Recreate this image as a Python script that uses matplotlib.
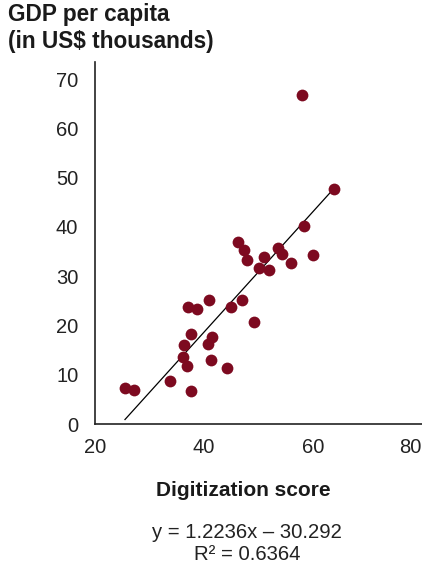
import numpy as np
import matplotlib.pyplot as plt

plt.rcParams['font.family'] = ['Liberation Sans', 'DejaVu Sans']

# digitization score vs GDP per capita (US$ thousands)
score = [57.9, 63.8, 58.4, 60.0, 46.2, 47.3, 47.8, 51.1, 53.6, 54.4, 55.9,
         50.1, 52.0, 40.9, 46.9, 45.0, 37.1, 38.7, 49.2, 37.7, 41.5, 40.8,
         36.4, 36.2, 36.9, 41.2, 44.2, 33.8, 25.5, 27.1, 37.7]
gdp = [66.7, 47.8, 40.2, 34.4, 37.0, 35.4, 33.3, 33.9, 35.8, 34.6, 32.7,
       31.6, 31.3, 25.2, 25.2, 23.8, 23.8, 23.3, 20.8, 18.2, 17.7, 16.2,
       16.0, 13.6, 11.8, 13.0, 11.3, 8.8, 7.4, 7.0, 6.6]
slope = 1.2236
intercept = -30.292
r2 = 0.6364
xticks = [20, 40, 60, 80]
yticks = [0, 10, 20, 30, 40, 50, 60, 70]

W, H = 422, 571
fig = plt.figure(figsize=(W / 100, H / 100), dpi=100)
ax = fig.add_axes([95 / W, 147 / H, 327 / W, 362 / H])

ax.scatter(score, gdp, s=72, color='#7d0a20', zorder=3, linewidths=0)
xs = np.array([min(score), max(score)])
ax.plot(xs, slope * xs + intercept, color='black', lw=0.9, zorder=2)

ax.set_xlim(20, 80)
ax.set_ylim(0, 73.5)
ax.set_xticks(xticks)
ax.set_yticks(yticks)
ax.tick_params(length=0, labelsize=14.5, colors='#222222')
ax.tick_params(axis='y', pad=12)
ax.tick_params(axis='x', pad=10)
ax.xaxis.get_majorticklabels()[-1].set_horizontalalignment('right')
for s in ['top', 'right']:
    ax.spines[s].set_visible(False)
for s in ['left', 'bottom']:
    ax.spines[s].set_linewidth(1.2)
    ax.spines[s].set_color('#222222')

fig.text(8 / W, 1 - 3 / H, 'GDP per capita\n(in US$ thousands)', ha='left', va='top',
         fontsize=16.3, fontweight='bold', color='#1a1a1a', linespacing=1.2)
fig.text(243 / W, 1 - 491 / H, 'Digitization score', ha='center', va='center',
         fontsize=15, fontweight='bold', color='#1a1a1a')
fig.text(247 / W, 1 - 532 / H, f'y = {slope}x \u2013 {abs(intercept)}', ha='center',
         va='center', fontsize=14.6, color='#222222')
fig.text(247 / W, 1 - 554 / H, f'R\u00b2 = {r2}', ha='center', va='center',
         fontsize=14.6, color='#222222')

fig.savefig('out.png', dpi=100)
